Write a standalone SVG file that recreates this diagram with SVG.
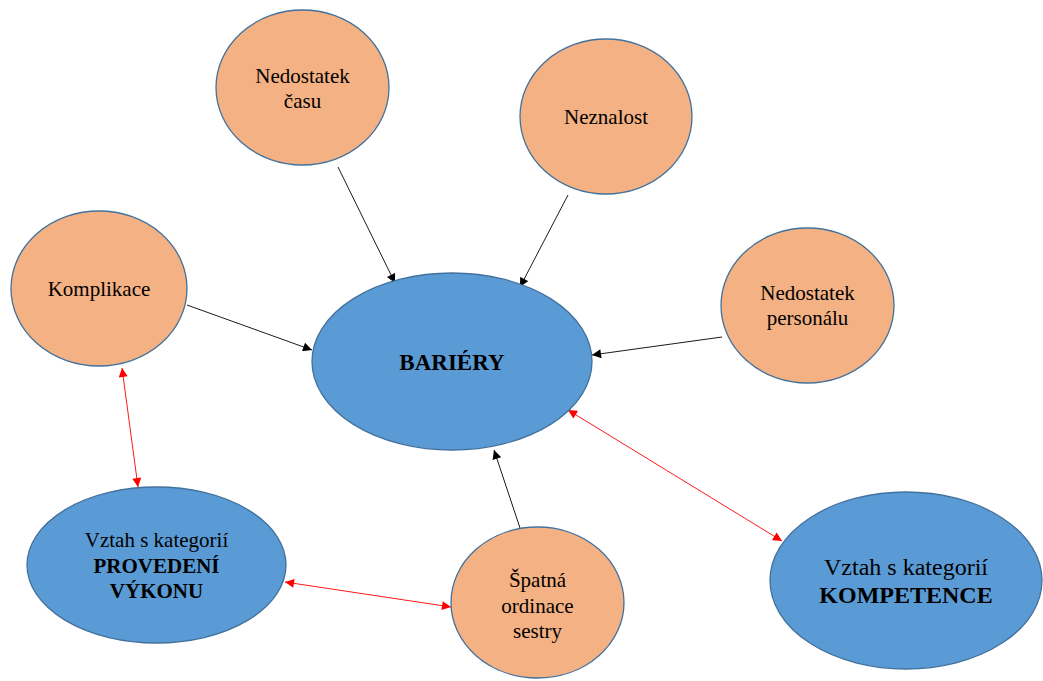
<svg xmlns="http://www.w3.org/2000/svg" width="1043" height="681" viewBox="0 0 1043 681" font-family="'Liberation Serif', 'DejaVu Serif', serif">
  <style>
    .orange { fill: #F4B183; stroke: #41719C; stroke-width: 1.3; }
    .blue { fill: #5B9BD5; stroke: #41719C; stroke-width: 1.3; }
    text { font-family: 'Liberation Serif', 'DejaVu Serif', serif; fill: #000; text-anchor: middle; }
    .t21 { font-size: 21px; }
    .t24 { font-size: 24px; }
    .b { font-weight: bold; }
    .blk { stroke: #000; stroke-width: 0.9; fill: none; }
    .red { stroke: #FF0000; stroke-width: 0.9; fill: none; }
  </style>
  <defs>
    <marker id="arrBlack" viewBox="0 0 10 10" refX="10" refY="5" markerWidth="10" markerHeight="9" markerUnits="userSpaceOnUse" orient="auto-start-reverse">
      <path d="M0,0 L10,5 L0,10 Z" fill="#000"/>
    </marker>
    <marker id="arrRed" viewBox="0 0 10 10" refX="10" refY="5" markerWidth="10" markerHeight="9" markerUnits="userSpaceOnUse" orient="auto-start-reverse">
      <path d="M0,0 L10,5 L0,10 Z" fill="#FF0000"/>
    </marker>
  </defs>

  <!-- connectors -->
  <g id="connectors">
    <line class="blk" x1="338" y1="167" x2="395" y2="283" marker-end="url(#arrBlack)"/>
    <line class="blk" x1="568" y1="195" x2="520" y2="287" marker-end="url(#arrBlack)"/>
    <line class="blk" x1="187" y1="305" x2="312" y2="350" marker-end="url(#arrBlack)"/>
    <line class="blk" x1="722" y1="337" x2="592" y2="355" marker-end="url(#arrBlack)"/>
    <line class="blk" x1="520" y1="528" x2="494" y2="450" marker-end="url(#arrBlack)"/>
    <line class="red" x1="122" y1="368" x2="138" y2="487" marker-start="url(#arrRed)" marker-end="url(#arrRed)"/>
    <line class="red" x1="285" y1="582" x2="451" y2="607" marker-start="url(#arrRed)" marker-end="url(#arrRed)"/>
    <line class="red" x1="568" y1="410" x2="782" y2="541" marker-start="url(#arrRed)" marker-end="url(#arrRed)"/>
  </g>

  <g id="nedostatek-casu">
    <ellipse class="orange" cx="302.5" cy="87.5" rx="86.5" ry="77.5"/>
    <text class="t21" x="302.5" y="83">Nedostatek</text>
    <text class="t21" x="302.5" y="108">času</text>
  </g>

  <g id="neznalost">
    <ellipse class="orange" cx="606" cy="116.5" rx="86" ry="77.5"/>
    <text class="t21" x="606" y="124">Neznalost</text>
  </g>

  <g id="komplikace">
    <ellipse class="orange" cx="99" cy="288.5" rx="88" ry="77.5"/>
    <text class="t21" x="99" y="296">Komplikace</text>
  </g>

  <g id="nedostatek-personalu">
    <ellipse class="orange" cx="807.5" cy="305.5" rx="86.5" ry="77.5"/>
    <text class="t21" x="807.5" y="300">Nedostatek</text>
    <text class="t21" x="807.5" y="325">personálu</text>
  </g>

  <g id="bariery">
    <ellipse class="blue" cx="452" cy="361.5" rx="140" ry="88.5"/>
    <text class="b" x="452" y="370" style="font-size:23px">BARIÉRY</text>
  </g>

  <g id="provedeni-vykonu">
    <ellipse class="blue" cx="156.5" cy="565" rx="129.5" ry="78"/>
    <text class="t21" x="156.5" y="547">Vztah s kategorií</text>
    <text class="t21 b" x="156.5" y="573">PROVEDENÍ</text>
    <text class="t21 b" x="156.5" y="598">VÝKONU</text>
  </g>

  <g id="spatna-ordinace">
    <ellipse class="orange" cx="537.5" cy="602.5" rx="86.5" ry="75.5"/>
    <text class="t21" x="537.5" y="587">Špatná</text>
    <text class="t21" x="537.5" y="613">ordinace</text>
    <text class="t21" x="537.5" y="638">sestry</text>
  </g>

  <g id="kompetence">
    <ellipse class="blue" cx="906" cy="580.5" rx="136" ry="88.5"/>
    <text class="t24" x="906" y="575">Vztah s kategorií</text>
    <text class="t24 b" x="906" y="603">KOMPETENCE</text>
  </g>
</svg>
